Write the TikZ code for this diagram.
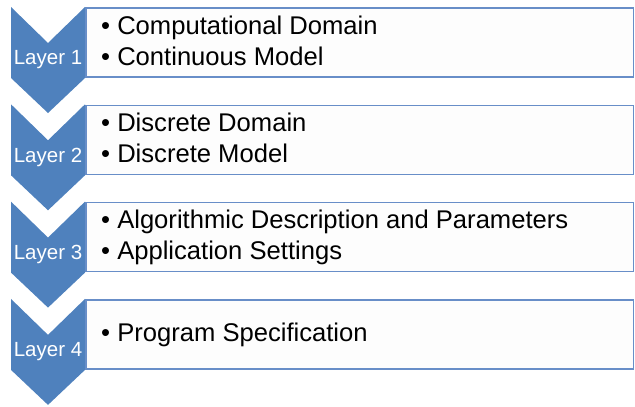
\documentclass[tikz,border=0pt]{standalone}
\usepackage{fontspec}
\setmainfont{Liberation Sans}
\usepackage{tikz}
\definecolor{chevblue}{RGB}{79,129,189}
\definecolor{boxblue}{RGB}{104,142,200}
\definecolor{boxfill}{RGB}{253,253,253}

\begin{document}
\begin{tikzpicture}[x=1pt,y=-1pt,
  chev/.style={fill=chevblue},
  boxline/.style={draw=boxblue,line width=1.4pt,fill=boxfill},
  layerlabel/.style={text=white,inner sep=0pt,font=\fontsize{20.5}{24}\selectfont},
  item/.style={anchor=base west,inner sep=0pt,font=\fontsize{25.6}{32}\selectfont}]

\useasboundingbox (0,0) rectangle (635,407);

\foreach \i/\t in {1/7,2/104.3,3/201.6,4/298.9}
{
\fill[chev] (11,\t)--(48,\t+36)--(85,\t)--(85,\t+71)--(48,\t+106)--(11,\t+71)--cycle;
\draw[boxline] (86,\t+1) rectangle (633.5,\t+70);
\node[layerlabel] (lab\i) at (48,\t+53) {Layer \i};
}

\node[item] (d1a) at (101,34) {\textbullet\ Computational Domain};
\node[item] (d1b) at (101,65) {\textbullet\ Continuous Model};
\node[item] (d2a) at (101,131.3) {\textbullet\ Discrete Domain};
\node[item] (d2b) at (101,162.3) {\textbullet\ Discrete Model};
\node[item] (d3a) at (101,228.6) {\textbullet\ Algorithmic Description and Parameters};
\node[item] (d3b) at (101,259.6) {\textbullet\ Application Settings};
\node[item] (d4a) at (101,341) {\textbullet\ Program Specification};
\end{tikzpicture}
\end{document}
